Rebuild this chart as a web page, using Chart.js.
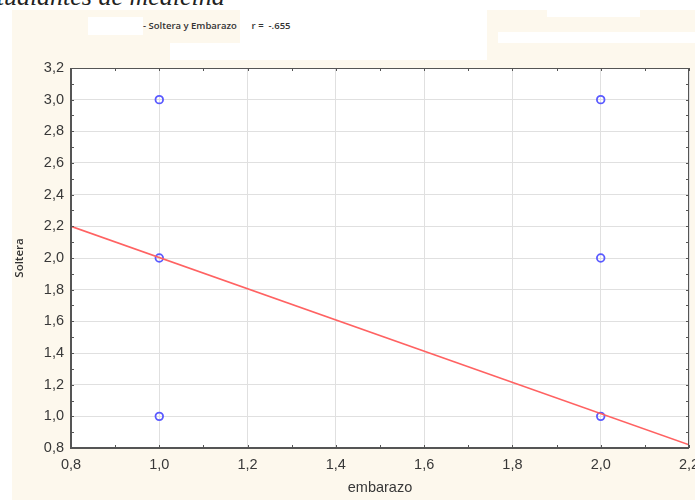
<!DOCTYPE html>
<html lang="es">
<head>
    <meta charset="UTF-8">
    <title>Soltera y Embarazo</title>
    <script src="https://cdn.jsdelivr.net/npm/chart.js@4.4.1/dist/chart.umd.min.js"></script>
    <style>
        body { margin: 0; background: #fff; }
        #wrap { position: relative; width: 695px; height: 500px; overflow: hidden; }
        .bg { position: absolute; }
        .cream { background: #fdf8ed; }
        .white { background: #fff; }
        #top { position: absolute; left: -25px; top: -18px; font: italic 26px "Liberation Serif", serif; color: #222; white-space: nowrap; }
        #ttl { position: absolute; left: 143px; top: 19px; font: 600 9.5px "Open Sans", sans-serif; color: #333; white-space: nowrap; }
        canvas { position: absolute; left: 0; top: 0; }
    </style>
</head>
<body>
<div id="wrap">
    <div class="bg cream" style="left:12px;top:10px;width:683px;height:490px"></div>
    <div class="bg white" style="left:88px;top:17px;width:55px;height:18px"></div>
    <div class="bg white" style="left:240px;top:10px;width:247px;height:33px"></div>
    <div class="bg white" style="left:170px;top:43px;width:317px;height:17px"></div>
    <div class="bg white" style="left:498px;top:32px;width:197px;height:11px"></div>
    <div class="bg white" style="left:547px;top:10px;width:93px;height:7px"></div>
    <div id="top">estudiantes de medicina</div>
    <div id="ttl">- Soltera y Embarazo&nbsp;&nbsp;&nbsp;&nbsp;&nbsp; r =&nbsp; -.655</div>
    <canvas id="canvas" width="695" height="500"></canvas>
</div>
<script>
    // datos
    const embarazo = [1.0, 1.0, 1.0, 2.0, 2.0, 2.0];
    const soltera = [3.0, 2.0, 1.0, 3.0, 2.0, 1.0];
    const fitX = [0.8, 2.2];
    const fitY = [2.2, 0.82];
    const xMin = 0.8, xMax = 2.2, yMin = 0.8, yMax = 3.2, step = 0.2, minorStep = 0.1;

    const fmt = v => Number(v).toFixed(1).replace('.', ',');

    const frame = {
        id: 'frame',
        beforeDraw(chart) {
            const a = chart.chartArea, c = chart.ctx;
            c.save();
            c.fillStyle = '#fff';
            c.fillRect(a.left, a.top, a.right - a.left, a.bottom - a.top);
            c.restore();
        },
        afterDatasetsDraw(chart) {
            const a = chart.chartArea, c = chart.ctx;
            const xs = chart.scales.x, ys = chart.scales.y;
            c.save();
            c.strokeStyle = '#555';
            c.lineWidth = 1;
            c.strokeRect(a.left + 0.5, a.top + 0.5, a.right - a.left - 1, a.bottom - a.top - 1);
            c.lineWidth = 2;
            c.beginPath();
            c.moveTo(a.left, a.top);
            c.lineTo(a.left, a.bottom);
            c.lineTo(a.right, a.bottom);
            c.stroke();
            // marcas menores en los cuatro lados
            c.lineWidth = 1;
            c.beginPath();
            for (let v = xMin; v <= xMax + 1e-9; v += minorStep) {
                const px = Math.round(xs.getPixelForValue(v)) + 0.5;
                c.moveTo(px, a.bottom); c.lineTo(px, a.bottom - 3);
                c.moveTo(px, a.top); c.lineTo(px, a.top + 3);
            }
            for (let v = yMin; v <= yMax + 1e-9; v += minorStep) {
                const py = Math.round(ys.getPixelForValue(v)) + 0.5;
                c.moveTo(a.left, py); c.lineTo(a.left + 3, py);
                c.moveTo(a.right, py); c.lineTo(a.right - 3, py);
            }
            c.stroke();
            c.restore();
        }
    };

    const tickFont = { family: 'Liberation Sans, Arial, sans-serif', size: 14.5 };

    new Chart('canvas', {
        type: 'scatter',
        data: {
            datasets: [{
                type: 'line',
                data: fitX.map((x, i) => ({ x: x, y: fitY[i] })),
                borderColor: '#ff6262',
                borderWidth: 1.6,
                pointRadius: 0,
                fill: false
            }, {
                data: embarazo.map((x, i) => ({ x: x, y: soltera[i] })),
                borderColor: '#5a5aff',
                backgroundColor: 'rgba(255,255,255,0)',
                borderWidth: 1.8,
                pointRadius: 3.8
            }]
        },
        options: {
            responsive: false,
            animation: false,
            layout: { padding: { left: 10, right: 6, top: 68, bottom: 0 } },
            plugins: { legend: { display: false }, tooltip: { enabled: false } },
            scales: {
                x: {
                    type: 'linear',
                    min: xMin, max: xMax,
                    grid: { color: '#e0e0e0', drawTicks: false },
                    border: { display: false },
                    ticks: { stepSize: step, callback: fmt, font: tickFont, color: '#383838', padding: 8, maxRotation: 0 },
                    title: { display: true, text: 'embarazo', font: tickFont, color: '#383838', padding: 3 },
                    afterFit(s) { s.height = 52; s.paddingRight = 0; s.paddingLeft = 0; }
                },
                y: {
                    min: yMin, max: yMax,
                    grid: { color: '#e0e0e0', drawTicks: false },
                    border: { display: false },
                    ticks: { stepSize: step, callback: fmt, font: tickFont, color: '#383838', padding: 7 },
                    title: { display: true, text: 'Soltera', font: { family: 'Open Sans, sans-serif', size: 11.5, weight: '600' }, color: '#333', padding: 3 },
                    afterFit(s) { s.width = 61; }
                }
            }
        },
        plugins: [frame]
    });
</script>
</body>
</html>
